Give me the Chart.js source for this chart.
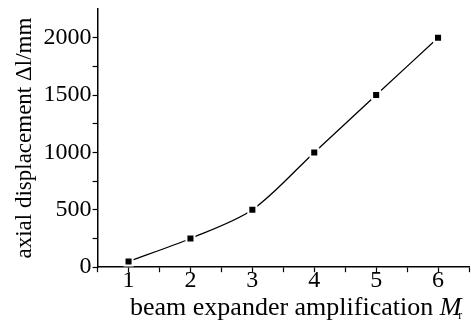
<!DOCTYPE html>
<html>
<head>
<meta charset="utf-8">
<script src="https://cdn.jsdelivr.net/npm/chart.js@4/dist/chart.umd.min.js"></script>
<style>
  body { margin: 0; background: #fff; }
  #wrap { width: 471px; height: 320px; }
</style>
</head>
<body>
<div id="wrap"><canvas id="amplification" width="471" height="320"></canvas></div>
<script>
var amplification = [1, 2, 3, 4, 5, 6];
var displacement = [50, 250, 500, 1000, 1500, 2000];
var yTickLabels = [0, 500, 1000, 1500, 2000];
var xTickLabels = [1, 2, 3, 4, 5, 6];

var serif = "'Liberation Serif', 'Times New Roman', serif";

// x axis title has an italic M with subscript r, so draw it by hand
var xTitle = {
	id : "xTitle",
	afterDraw : function(chart) {
		var c = chart.ctx;
		var main = "beam expander amplification ";
		c.save();
		c.fillStyle = "#000";
		c.textBaseline = "alphabetic";
		c.font = "26px " + serif;
		var w1 = c.measureText(main).width;
		c.font = "italic 26px " + serif;
		var w2 = c.measureText("M").width;
		var x = 130;
		var y = 315;
		c.font = "26px " + serif;
		c.fillText(main, x, y);
		c.font = "italic 26px " + serif;
		c.fillText("M", x + w1, y);
		c.font = "12px " + serif;
		c.fillText("r", x + w1 + w2 - 3, y + 4);
		c.restore();
	}
};

var points = amplification.map(function(m, i) {
	return { x : m, y : displacement[i] };
});

var chart = new Chart(document.getElementById("amplification"), {
	type : "line",
	data : {
		datasets : [
			{
				label : "axial displacement",
				data : points,
				borderColor : "#000",
				borderWidth : 1.3,
				tension : 0.3,
				fill : false,
				pointStyle : "rect",
				pointRadius : 5.7,
				pointHoverRadius : 5.7,
				pointBorderWidth : 2,
				pointBorderColor : "#fff",
				pointBackgroundColor : "#000"
			}
		]
	},
	options : {
		responsive : false,
		animation : false,
		events : [],
		layout : { autoPadding : false, padding : { top : 9, right : 2, bottom : 31, left : 11 } },
		plugins : {
			legend : { display : false },
			tooltip : { enabled : false }
		},
		scales : {
			x : {
				type : "linear",
				min : 0.5,
				max : 6.5,
				afterFit : function(scale) {
					scale.paddingLeft = 0;
					scale.paddingRight = 0;
				},
				border : { color : "#000", width : 1.5 },
				grid : {
					drawOnChartArea : false,
					tickLength : 5,
					tickColor : "#000",
					tickWidth : 1.2
				},
				ticks : {
					stepSize : 0.5,
					autoSkip : false,
					maxRotation : 0,
					padding : -6,
					color : "#000",
					font : { family : serif, size : 24 },
					callback : function(v) {
						return xTickLabels.indexOf(v) >= 0 ? String(v) : "";
					}
				}
			},
			y : {
				min : 0,
				max : 2250,
				afterFit : function(scale) {
					scale.paddingTop = 0;
				},
				border : { color : "#000", width : 1.5 },
				grid : {
					drawOnChartArea : false,
					tickLength : 5,
					tickWidth : 1.2,
					tickColor : "#000"
				},
				ticks : {
					stepSize : 250,
					autoSkip : false,
					padding : 1,
					color : "#000",
					font : { family : serif, size : 24 },
					callback : function(v) {
						if (v === 2250) return null;
						return yTickLabels.indexOf(v) >= 0 ? String(v) : "";
					}
				},
				title : {
					display : true,
					text : "axial displacement \u0394l/mm",
					color : "#000",
					font : { family : serif, size : 23 },
					padding : { top : 0, bottom : 4 }
				}
			}
		}
	},
	plugins : [xTitle]
});
</script>
</body>
</html>
